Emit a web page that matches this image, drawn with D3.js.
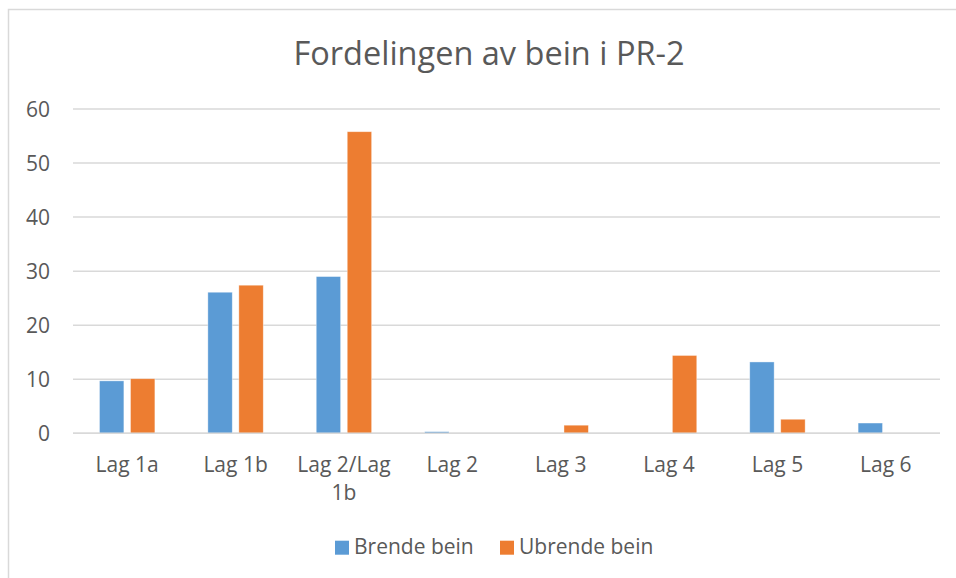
<!DOCTYPE html>
<html><head><meta charset="utf-8">
<script src="https://cdnjs.cloudflare.com/ajax/libs/d3/7.8.5/d3.min.js"></script>
<style>
html,body{margin:0;padding:0;background:#fff;}
svg{display:block;font-family:"Open Sans",sans-serif;}
</style></head>
<body>
<svg id="chart" width="956" height="578"></svg>
<script>
const categories = ["Lag 1a", "Lag 1b", "Lag 2/Lag 1b", "Lag 2", "Lag 3", "Lag 4", "Lag 5", "Lag 6"];
const seriesNames = ["Brende bein", "Ubrende bein"];
const brende = [9.7, 26.1, 29.0, 0.3, 0, 0, 13.2, 1.9];
const ubrende = [10.1, 27.4, 55.8, 0, 1.5, 14.4, 2.6, 0];
const yTicks = [0, 10, 20, 30, 40, 50, 60];
const colors = ["#5b9bd5", "#ed7d31"];
const title = "Fordelingen av bein i PR-2";

const svg = d3.select("#chart");
const textColor = "#595959";
const gridColor = "#d9d9d9";

// chart border
svg.append("rect").attr("x", 8.5).attr("y", 9.5).attr("width", 980).attr("height", 600)
  .attr("fill", "#fff").attr("stroke", gridColor).attr("stroke-width", 1.5);

const plot = {left: 73, right: 940, top: 109, bottom: 433.3};

const y = d3.scaleLinear().domain([0, 60]).range([plot.bottom, plot.top]);
const x0 = d3.scaleBand().domain(categories).range([plot.left, plot.right]).padding(0);
const groupW = 55.4;
const x1 = d3.scaleBand().domain(seriesNames)
  .range([(x0.bandwidth() - groupW) / 2, (x0.bandwidth() + groupW) / 2])
  .paddingInner(0.213).paddingOuter(0);

// gridlines
svg.append("g").selectAll("line").data(yTicks).join("line")
  .attr("x1", plot.left).attr("x2", plot.right)
  .attr("y1", d => y(d)).attr("y2", d => y(d))
  .attr("stroke", gridColor).attr("stroke-width", 1.5);

// y labels
const yAxis = d3.axisLeft(y).tickValues(yTicks).tickSize(0).tickPadding(0);
const gy = svg.append("g").attr("transform", "translate(50,0)").call(yAxis);
gy.select(".domain").remove();
gy.selectAll("text").attr("fill", textColor).attr("font-size", 21)
  .attr("font-family", "Open Sans").attr("dy", "0.35em");

// bars
const series = [brende, ubrende];
const groups = svg.append("g").selectAll("g").data(categories).join("g")
  .attr("transform", d => `translate(${x0(d)},0)`);
groups.selectAll("rect").data((c, i) => seriesNames.map((s, k) => ({s, k, v: series[k][i]})))
  .join("rect")
  .filter(d => d.v > 0)
  .attr("x", d => x1(d.s)).attr("width", x1.bandwidth())
  .attr("y", d => y(d.v)).attr("height", d => y(0) - y(d.v))
  .attr("fill", d => colors[d.k])
  .attr("stroke", "#fff").attr("stroke-opacity", 0.5).attr("stroke-width", 0.75);

// x axis line
svg.append("line").attr("x1", plot.left).attr("x2", plot.right)
  .attr("y1", y(0)).attr("y2", y(0)).attr("stroke", gridColor).attr("stroke-width", 1.5);

// x labels (wrapped)
const xl = svg.append("g");
categories.forEach(c => {
  const cx = x0(c) + x0.bandwidth() / 2;
  let lines = [c];
  if (c === "Lag 2/Lag 1b") lines = ["Lag 2/Lag", "1b"];
  const t = xl.append("text").attr("x", cx).attr("y", 472).attr("text-anchor", "middle")
    .attr("fill", textColor).attr("font-size", 21);
  lines.forEach((l, i) => t.append("tspan").attr("x", cx).attr("y", 472 + i * 28).text(l));
});

// title
svg.append("text").attr("x", 489).attr("y", 64.5).attr("text-anchor", "middle")
  .attr("fill", textColor).attr("font-size", 32.5).text(title);

// legend
const legX = [335, 500];
seriesNames.forEach((s, k) => {
  svg.append("rect").attr("x", legX[k]).attr("y", 540.7).attr("width", 14).attr("height", 14)
    .attr("fill", colors[k]);
  svg.append("text").attr("x", legX[k] + 19).attr("y", 554).attr("fill", textColor)
    .attr("font-size", 21).text(s);
});
</script>
</body></html>
